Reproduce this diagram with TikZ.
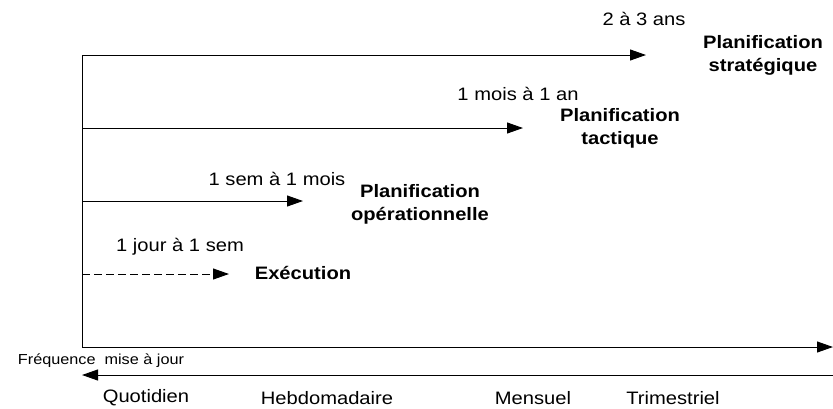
\documentclass[tikz,border=0pt]{standalone}
\usepackage{fontspec}
\setmainfont{Liberation Sans}[FakeStretch=1.12]
\usetikzlibrary{calc, arrows, positioning}
\usetikzlibrary{arrows.meta}

\tikzset{
    lbl/.style={font=\fontsize{18}{23}\selectfont, inner sep=0pt},
    nivlbl/.style={font=\fontsize{18}{23}\selectfont\bfseries, align=center, inner sep=0pt},
    petitlbl/.style={font=\fontsize{14.5}{16}\selectfont, inner sep=0pt},
    fleche/.style={-{Triangle[length=16pt,width=11pt]}, line width=1pt}
}

\begin{document}
\begin{tikzpicture}[x=1pt, y=-1pt]
    \useasboundingbox (0,0) rectangle (833,408);

    \coordinate (O1) at (82, 55);
    \coordinate (O2) at (82, 128);
    \coordinate (O3) at (82, 201);
    \coordinate (O4) at (82, 274);
    \coordinate (O) at (82, 347);
    \coordinate (S1) at (646, 55);
    \coordinate (S2) at (523, 128);
    \coordinate (S3) at (303, 201);
    \coordinate (S4) at (229, 274);
    \coordinate (X) at (833, 347);
    \coordinate (R1) at (833, 375);
    \coordinate (R2) at (82, 375);

    % axes
    \draw [line width=1pt] (O1) -- (O);
    \draw [fleche] (O) -- (X);
    \draw [fleche] (R1) -- (R2);

    % horizons
    \draw [fleche] (O1) -- (S1);
    \draw [fleche] (O2) -- (S2);
    \draw [fleche] (O3) -- (S3);
    \draw [fleche, dash pattern=on 8pt off 4pt] (O4) -- (S4);

    \node [lbl] (h1) at (644, 19) {2 à 3 ans};
    \node [nivlbl] (strat) at (763, 55) {Planification\\stratégique};
    \node [lbl] (h2) at (518, 94) {1 mois à 1 an};
    \node [nivlbl] (tact) at (620, 128) {Planification\\tactique};
    \node [lbl] (h3) at (277, 179) {1 sem à 1 mois};
    \node [nivlbl] (oper) at (420, 204) {Planification\\opérationnelle};
    \node [lbl] (h4) at (180, 247) {1 jour à 1 sem};
    \node [nivlbl] (exec) at (303, 273) {Exécution};

    \node [petitlbl] (freq) at (101, 361) {Fréquence\ \ mise à jour};
    \node [lbl] (quot) at (146, 398) {Quotidien};
    \node [lbl] (hebdo) at (327, 398) {Hebdomadaire};
    \node [lbl] (mens) at (533, 398) {Mensuel};
    \node [lbl] (trim) at (673, 398) {Trimestriel};
\end{tikzpicture}
\end{document}
